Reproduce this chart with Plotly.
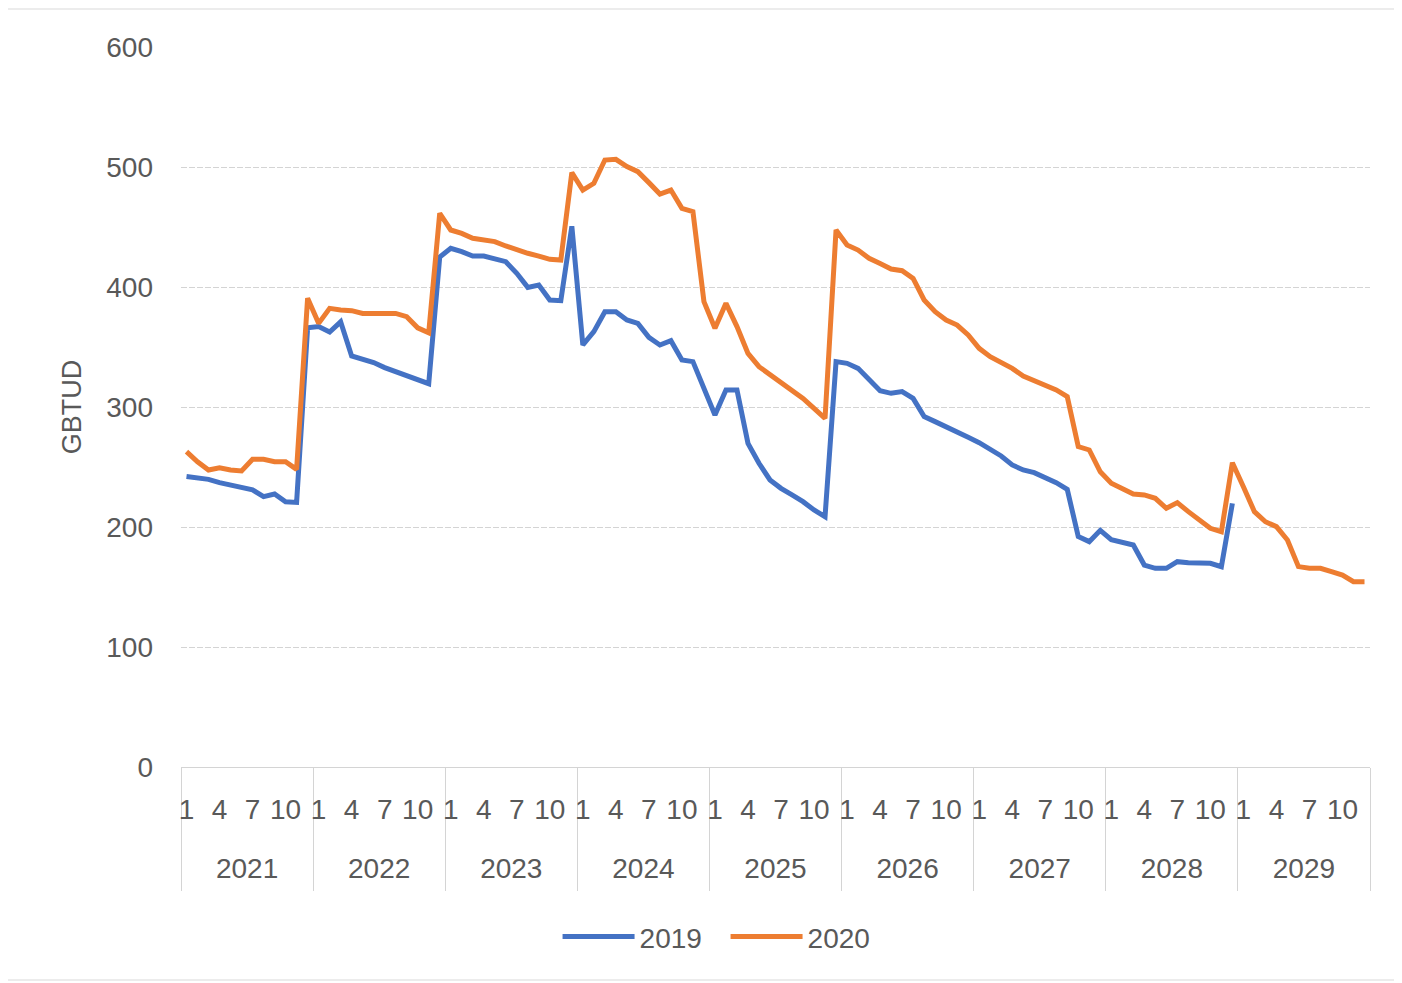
import plotly.graph_objects as go

# ---- data ----
years = [2021, 2022, 2023, 2024, 2025, 2026, 2027, 2028, 2029]
months = list(range(1, 13))
month_tick_labels = ["1", "4", "7", "10"]

series_2019 = [
    242, 240.5, 239.7, 237, 235, 232, 231, 225.3, 227.5, 221, 220.5, 366,
    367, 362.5, 371, 342.5, 339.7, 337, 332.8, 329.4, 325.3, 323, 319.4, 425,
    432.2, 429.4, 425.8, 425.8, 423.9, 421.1, 411.4, 399.7, 401.7, 389.2, 388.6, 450.6,
    351.7, 362.8, 379.4, 379.4, 372.5, 369.7, 358, 351.7, 355.3, 339.2, 337.8, 314.2,
    293.3, 314.2, 314.2, 269.7, 253.1, 239.2, 232.2, 226.7, 221.1, 214.2, 208.6, 337.8,
    336.4, 332.2, 322.5, 313.5, 311.4, 312.8, 307.2, 292, 287.8, 283.1, 278.6, 274.7,
    270.3, 264.2, 259.2, 251.7, 247.5, 245.3, 241.4, 237, 231.4, 192, 187.8, 197.2,
    189.5, 186.9, 185, 168.3, 165.6, 165.6, 171.1, 170.3, 169.7, 169.7, 166.9, 219.7,
]
series_2020 = [
    262.8, 254.4, 247.5, 249.4, 247.5, 246.7, 256.4, 256.4, 254.4, 254.4, 248, 390.6,
    369.7, 382.2, 380.8, 380.3, 378, 378, 378, 378, 375.3, 366, 361.9, 461.4,
    447.5, 444.7, 440.6, 439.7, 437.8, 434.2, 430.8, 428.1, 425.8, 423.1, 422.5, 495.3,
    480.8, 486.4, 505.8, 506.4, 500.3, 496.1, 487, 477.5, 480.8, 465.6, 462.8, 387.8,
    365.6, 386.4, 367, 344.7, 333.6, 326.7, 319.7, 312.8, 307.2, 298.9, 290.6, 447.5,
    435, 430.8, 423.9, 419.5, 415, 413.6, 407.2, 389.2, 379.4, 372.5, 368.3, 360,
    348.9, 341.9, 336.9, 332.2, 325.8, 322, 318.3, 314.2, 308.6, 267, 264.2, 246,
    236.5, 231.5, 227.5, 226.7, 223.9, 215.6, 220.3, 212.8, 205.8, 198.9, 196.1, 253.6,
    233.6, 212.8, 204.4, 200.3, 189.2, 167, 165.6, 165.6, 162.8, 160, 154.4, 154.4,
]

# ---- positions on the category axis ----
n_months = len(months)
n_total = len(years) * n_months
x_all = list(range(n_total))
month_tickvals = [yi * n_months + (int(m) - 1) for yi in range(len(years)) for m in month_tick_labels]
month_ticktext = [m for _ in years for m in month_tick_labels]
year_tickvals = [yi * n_months + (n_months - 1) / 2 for yi in range(len(years))]
year_ticktext = [str(y) for y in years]

BLUE = "#4472C4"
ORANGE = "#ED7D31"
GRAY_TXT = "#595959"
GRID = "#d4d4d4"
FONT = "Liberation Sans, Arial, sans-serif"
FS = 28

fig = go.Figure()
fig.add_trace(go.Scatter(x=x_all[:len(series_2019)], y=series_2019, mode="lines", name="2019",
                         line=dict(color=BLUE, width=5)))
fig.add_trace(go.Scatter(x=x_all[:len(series_2020)], y=series_2020, mode="lines", name="2020",
                         line=dict(color=ORANGE, width=5)))
# invisible trace to activate the year-label axis
fig.add_trace(go.Scatter(x=[x_all[0]], y=[None], xaxis="x2", showlegend=False, hoverinfo="skip"))

xr = [-0.5, n_total - 0.5]
fig.update_layout(
    width=1402, height=983,
    margin=dict(l=173, r=40, t=39, b=224),
    paper_bgcolor="white", plot_bgcolor="white",
    font=dict(family=FONT, size=FS, color=GRAY_TXT),
    showlegend=True,
    legend=dict(orientation="h", x=0.458, xanchor="center", y=-0.236, yanchor="middle",
                font=dict(size=FS, color=GRAY_TXT), itemwidth=72,
                entrywidth=81, entrywidthmode="pixels", tracegroupgap=0),
    xaxis=dict(
        range=xr, showgrid=False, zeroline=False,
        showline=True, linecolor=GRID, linewidth=1,
        tickmode="array", tickvals=month_tickvals, ticktext=month_ticktext,
        ticks="", ticklabelstandoff=17,
        tickfont=dict(size=FS, color=GRAY_TXT),
        minor=dict(tickmode="linear", tick0=-0.5, dtick=n_months, ticks="outside",
                   ticklen=123, tickcolor=GRID, tickwidth=1, showgrid=False),
    ),
    xaxis2=dict(
        range=xr, overlaying="x", anchor="y", side="bottom",
        showgrid=False, zeroline=False, showline=False,
        tickmode="array", tickvals=year_tickvals, ticktext=year_ticktext,
        ticks="", ticklabelstandoff=82,
        tickfont=dict(size=FS, color=GRAY_TXT),
    ),
    yaxis=dict(
        range=[0, 600], tickmode="linear", tick0=0, dtick=100,
        showgrid=True, gridcolor=GRID, gridwidth=1, griddash="6px,2px",
        zeroline=False, showline=False, ticks="", ticklabelstandoff=27,
        tickfont=dict(size=FS, color=GRAY_TXT),
        title=dict(text="GBTUD", font=dict(size=27, color=GRAY_TXT), standoff=16),
    ),
    shapes=[dict(type="rect", xref="paper", yref="paper",
                 x0=(7 - 181) / 1189, x1=(1400 - 181) / 1189,
                 y0=(767 - 980) / 720, y1=(767 - 9) / 720,
                 line=dict(color="#d9d9d9", width=1), layer="below")],
)

fig.write_html("out.html")
